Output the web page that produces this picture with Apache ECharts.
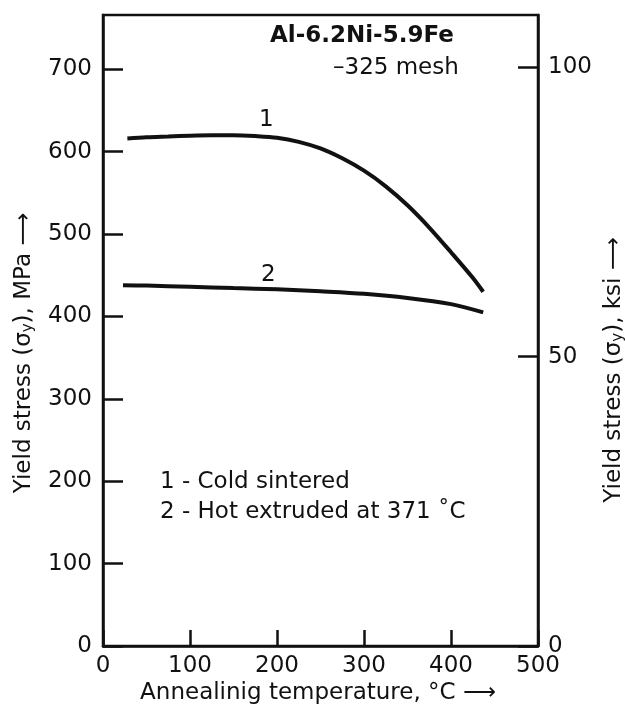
<!DOCTYPE html>
<html>
<head>
<meta charset="utf-8">
<script src="https://cdn.jsdelivr.net/npm/echarts@6/dist/echarts.min.js"></script>
<style>html,body{margin:0;padding:0;background:#fff}#c{width:625px;height:708px}</style>
</head>
<body>
<div id="c"></div>
<script>
const coldSinteredTemp = [28, 50, 75, 100, 125, 150, 175, 200, 225, 250, 275, 300, 325, 350, 375, 400, 425, 437];
const coldSinteredMPa  = [616, 617.5, 618.5, 619.5, 620, 620, 619, 617, 612, 604, 592, 577, 558, 535, 508, 478, 447, 430];
const hotExtrudedTemp  = [23, 50, 100, 150, 200, 250, 300, 350, 400, 437];
const hotExtrudedMPa   = [438, 437.5, 436, 434.5, 433, 430.5, 427.5, 422.5, 415, 405];
const xTicks = [0, 100, 200, 300, 400, 500];
const mpaTicks = [0, 100, 200, 300, 400, 500, 600, 700];
const ksiTicks = [0, 50, 100];

const F = 'DejaVu Sans, Liberation Sans, sans-serif';
const C = '#111';
const chart = echarts.init(document.getElementById('c'), null, {renderer: 'canvas'});
const zip = (a, b) => a.map((v, i) => [v, b[i]]);

chart.setOption({
  animation: false,
  grid: {left: 103, right: 87, top: 15, bottom: 62, show: true, borderColor: C, borderWidth: 2.5, backgroundColor: 'transparent'},
  xAxis: {
    type: 'value', min: xTicks[0], max: xTicks[xTicks.length - 1], interval: 100,
    axisLine: {show: true, lineStyle: {color: C, width: 2.5}},
    axisTick: {show: true, inside: true, length: 16, lineStyle: {color: C, width: 2.5}},
    axisLabel: {color: C, fontFamily: F, fontSize: 23, margin: 9},
    splitLine: {show: false}
  },
  yAxis: [{
    type: 'value', min: mpaTicks[0], max: 766, interval: 100, position: 'left',
    axisLine: {show: true, lineStyle: {color: C, width: 2.5}},
    axisTick: {show: true, inside: true, length: 20, lineStyle: {color: C, width: 2.5}},
    axisLabel: {color: C, fontFamily: F, fontSize: 23, margin: 11, showMaxLabel: false},
    splitLine: {show: false}
  }, {
    type: 'value', min: ksiTicks[0], max: 109, interval: 50, position: 'right',
    axisLine: {show: true, lineStyle: {color: C, width: 2.5}},
    axisTick: {show: true, inside: true, length: 20, lineStyle: {color: C, width: 2.5}},
    axisLabel: {color: C, fontFamily: F, fontSize: 23, margin: 10, showMaxLabel: false},
    splitLine: {show: false}
  }],
  series: [{
    type: 'line', name: '1', data: zip(coldSinteredTemp, coldSinteredMPa), smooth: 0.3,
    symbol: 'none', lineStyle: {color: C, width: 4}
  }, {
    type: 'line', name: '2', data: zip(hotExtrudedTemp, hotExtrudedMPa), smooth: 0.3,
    symbol: 'none', lineStyle: {color: C, width: 4}
  }],
  graphic: [
    {type: 'text', left: 270, top: 25, style: {text: 'Al-6.2Ni-5.9Fe', font: 'bold 23px ' + F, fill: C}},
    {type: 'text', left: 333, top: 57, style: {text: '–325 mesh', font: '23px ' + F, fill: C}},
    {type: 'text', left: 259, top: 109, style: {text: '1', font: '23px ' + F, fill: C}},
    {type: 'text', left: 261, top: 264, style: {text: '2', font: '23px ' + F, fill: C}},
    {type: 'text', left: 160, top: 471, style: {text: '1 - Cold sintered', font: '23px ' + F, fill: C}},
    {type: 'text', left: 160, top: 501, style: {text: '2 - Hot extruded at 371 ˚C', font: '23px ' + F, fill: C}},
    {type: 'text', x: 318, y: 693, style: {
      text: 'Annealinig temperature, °C ⟶', font: '23px ' + F, fill: C, align: 'center', verticalAlign: 'middle'}},
    {type: 'text', x: 24, y: 353, rotation: Math.PI / 2, style: {
      text: '{a|Yield stress (σ}{s|y}{a|), MPa ⟶}', align: 'center', verticalAlign: 'middle',
      rich: {a: {font: '23px ' + F, fill: C, color: C}, s: {font: '15px ' + F, fill: C, color: C, verticalAlign: 'bottom', padding: [8, 0, 0, 0]}}}},
    {type: 'text', x: 614, y: 370, rotation: Math.PI / 2, style: {
      text: '{a|Yield stress (σ}{s|y}{a|), ksi ⟶}', align: 'center', verticalAlign: 'middle',
      rich: {a: {font: '23px ' + F, fill: C, color: C}, s: {font: '15px ' + F, fill: C, color: C, verticalAlign: 'bottom', padding: [8, 0, 0, 0]}}}}
  ]
});
</script>
</body>
</html>
